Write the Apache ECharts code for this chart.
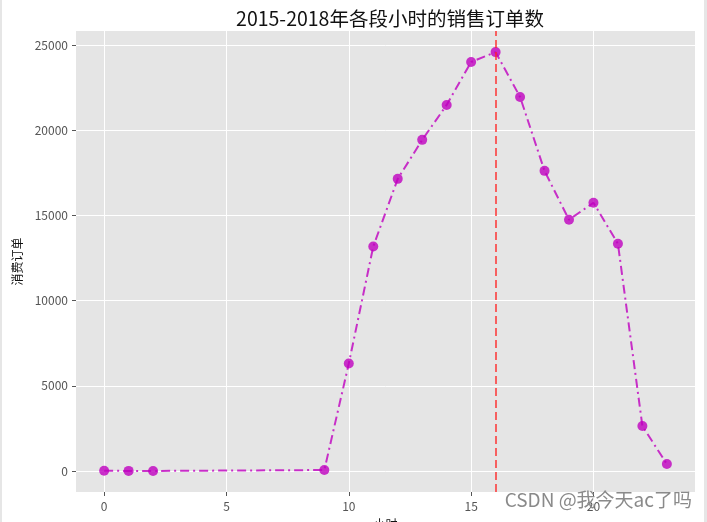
<!DOCTYPE html>
<html>
<head>
<meta charset="utf-8">
<script src="https://cdn.jsdelivr.net/npm/echarts@6/dist/echarts.min.js"></script>
<style>
html,body{margin:0;padding:0;background:#fff;}
#wrap{position:relative;width:707px;height:522px;}
#chart{position:absolute;left:0;top:0;width:707px;height:522px;}
#lb{position:absolute;left:0;top:0;width:2px;height:522px;background:#e6e6e6;}
#rb{position:absolute;right:0;top:0;width:3px;height:522px;background:#e6e6e6;}
</style>
</head>
<body>
<div id="wrap"><div id="chart"></div><div id="lb"></div><div id="rb"></div></div>
<script>
const titleText = '2015-2018年各段小时的销售订单数';
const yName = '消费订单';
const xName = '小时';
const hours = [0, 1, 2, 9, 10, 11, 12, 13, 14, 15, 16, 17, 18, 19, 20, 21, 22, 23];
const orders = [15, 8, 6, 60, 6310, 13180, 17150, 19440, 21490, 24010, 24590, 21960, 17620, 14750, 15750, 13340, 2640, 410];
const peakHour = 16;
const xTicks = [0, 5, 10, 15, 20];
const yTicks = [0, 5000, 10000, 15000, 20000, 25000];

const points = hours.map((h, i) => [h, orders[i]]);
const FONT = '"Noto Sans CJK SC", "DejaVu Sans", sans-serif';

const chart = echarts.init(document.getElementById('chart'), null, {renderer: 'canvas'});
chart.setOption({
  backgroundColor: 'transparent',
  animation: false,
  title: {
    text: titleText,
    left: 385, top: 4, textAlign: 'center',
    textStyle: {fontFamily: FONT, fontSize: 19.5, fontWeight: 'normal', color: '#111'}
  },
  grid: {left: 76, right: 12, top: 31, bottom: 30, show: true, backgroundColor: '#e5e5e5', borderWidth: 0,
         containLabel: false, outerBoundsMode: 'none'},
  xAxis: {
    type: 'value', min: -1.15, max: 24.15,
    axisLine: {show: false, onZero: false},
    axisTick: {show: true, length: 4, lineStyle: {color: '#555'}, customValues: xTicks},
    axisLabel: {customValues: xTicks, color: '#555', fontFamily: FONT, fontSize: 12, margin: 8,
                formatter: v => String(v)},
    splitLine: {show: true, lineStyle: {color: '#ffffff', width: 1}},
    name: xName, nameLocation: 'middle', nameGap: 26,
    nameTextStyle: {fontFamily: FONT, fontSize: 12, color: '#111', verticalAlign: 'top'}
  },
  yAxis: {
    type: 'value', min: -1230, max: 25830,
    axisLine: {show: false, onZero: false},
    axisTick: {show: true, length: 4, lineStyle: {color: '#555'}, customValues: yTicks},
    axisLabel: {customValues: yTicks, color: '#555', fontFamily: FONT, fontSize: 12, margin: 8,
                formatter: v => String(v)},
    splitLine: {show: true, lineStyle: {color: '#ffffff', width: 1}},
    name: yName, nameLocation: 'middle', nameGap: 52, nameRotate: 90,
    nameTextStyle: {fontFamily: FONT, fontSize: 12, color: '#111'}
  },
  series: [{
    type: 'line',
    data: points,
    symbol: 'circle', symbolSize: 10,
    itemStyle: {color: 'rgba(191,0,191,0.8)'},
    lineStyle: {color: 'rgba(191,0,191,0.8)', width: 2, type: [9, 4, 2, 4]},
    z: 3,
    markLine: {
      silent: true, symbol: ['none', 'none'], label: {show: false},
      lineStyle: {color: 'rgba(255,40,40,0.7)', width: 2, type: [8, 4]},
      data: [{xAxis: peakHour}]
    }
  }],
  graphic: [{
    type: 'text', right: 15, top: 490, z: 100,
    style: {text: 'CSDN @我今天ac了吗', fontFamily: FONT, fontSize: 19, fill: '#8a8a8a'}
  }]
});
</script>
</body>
</html>
